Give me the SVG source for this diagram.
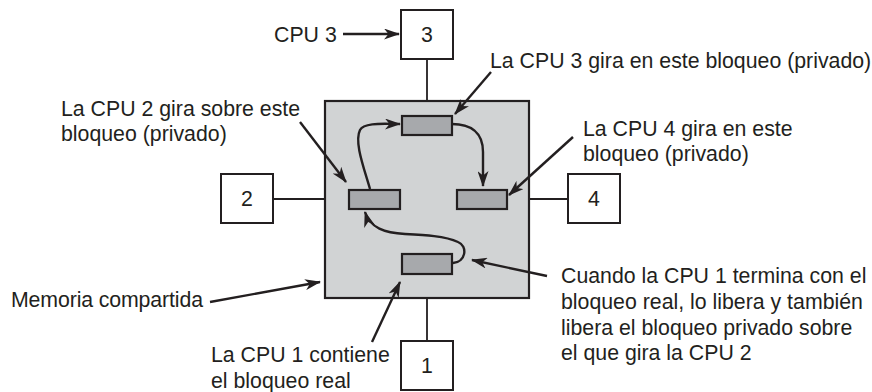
<svg xmlns="http://www.w3.org/2000/svg" width="872" height="392" viewBox="0 0 872 392">
<style>
.t{font-family:"Liberation Sans",Arial,sans-serif;font-size:21.3px;fill:#231f20}
.n{font-family:"Liberation Sans",Arial,sans-serif;font-size:21.3px;fill:#231f20;text-anchor:middle}
.box{fill:#fff;stroke:#231f20;stroke-width:2}
.lock{fill:#a7a9ac;stroke:#231f20;stroke-width:2.2}
.mem{fill:#d1d3d4;stroke:#231f20;stroke-width:2.2}
.ln{stroke:#231f20;stroke-width:1.8;fill:none}
.ar{stroke:#231f20;stroke-width:2.4;fill:none;marker-end:url(#ah)}
</style>
<defs>
<marker id="ah" viewBox="0 0 16 11" refX="15" refY="5.5" markerWidth="16" markerHeight="11" orient="auto" markerUnits="userSpaceOnUse">
<path d="M0,0 L16,5.5 L0,11 L4.5,5.5 Z" fill="#231f20"/>
</marker>
</defs>
<g id="links">
<path class="ln" d="M427,59 V101"/>
<path class="ln" d="M273,199 H325"/>
<path class="ln" d="M529,199 H568"/>
<path class="ln" d="M427,298 V341"/>
</g>
<g id="memoria"><rect class="mem" x="325" y="101" width="204" height="197"/></g>
<g id="cpu3"><rect class="box" x="401" y="10" width="52" height="49"/><text class="n" x="427" y="42">3</text></g>
<g id="cpu2"><rect class="box" x="221" y="174" width="52" height="49"/><text class="n" x="247" y="206">2</text></g>
<g id="cpu4"><rect class="box" x="568" y="174" width="52" height="49"/><text class="n" x="594" y="206">4</text></g>
<g id="cpu1"><rect class="box" x="401" y="341" width="52" height="49"/><text class="n" x="427" y="373">1</text></g>
<g id="lock-top"><rect class="lock" x="402" y="116" width="50" height="19"/></g>
<g id="lock-left"><rect class="lock" x="349" y="190" width="51" height="19"/></g>
<g id="lock-right"><rect class="lock" x="457" y="190" width="50" height="19"/></g>
<g id="lock-bottom"><rect class="lock" x="402" y="254" width="50" height="20"/></g>
<g id="connectors">
<path class="ar" d="M343,34 L399,34"/>
<path class="ar" d="M491,72 L455,114"/>
<path class="ar" d="M300,122 L346,182"/>
<path class="ar" d="M573,137 L509,195"/>
<path class="ar" d="M372,342 L400,282"/>
<path class="ar" d="M210,302 L320,282"/>
<path class="ar" d="M547,276 L472,260"/>
<path class="ar" d="M370,189 C364,168 354,142 360,130 C364,122 385,124 400,124"/>
<path class="ar" d="M452,124 C470,124 483,132 483,152 L483,186"/>
<path class="ar" d="M453,263 C466,262 468,246 458,242 C445,236 425,235 405,234 C385,233 370,228 365,212"/>
</g>
<g id="labels">
<text class="t" x="274" y="42">CPU 3</text>
<text class="t" x="490" y="68">La CPU 3 gira en este bloqueo (privado)</text>
<text class="t" x="61" y="116">La CPU 2 gira sobre este</text>
<text class="t" x="61" y="141">bloqueo (privado)</text>
<text class="t" x="583" y="136">La CPU 4 gira en este</text>
<text class="t" x="583" y="161">bloqueo (privado)</text>
<text class="t" x="11" y="307" textLength="192" lengthAdjust="spacing">Memoria compartida</text>
<text class="t" x="211" y="362">La CPU 1 contiene</text>
<text class="t" x="211" y="388">el bloqueo real</text>
<text class="t" x="561" y="283">Cuando la CPU 1 termina con el</text>
<text class="t" x="561" y="309">bloqueo real, lo libera y también</text>
<text class="t" x="561" y="335">libera el bloqueo privado sobre</text>
<text class="t" x="561" y="360">el que gira la CPU 2</text>
</g>
</svg>
